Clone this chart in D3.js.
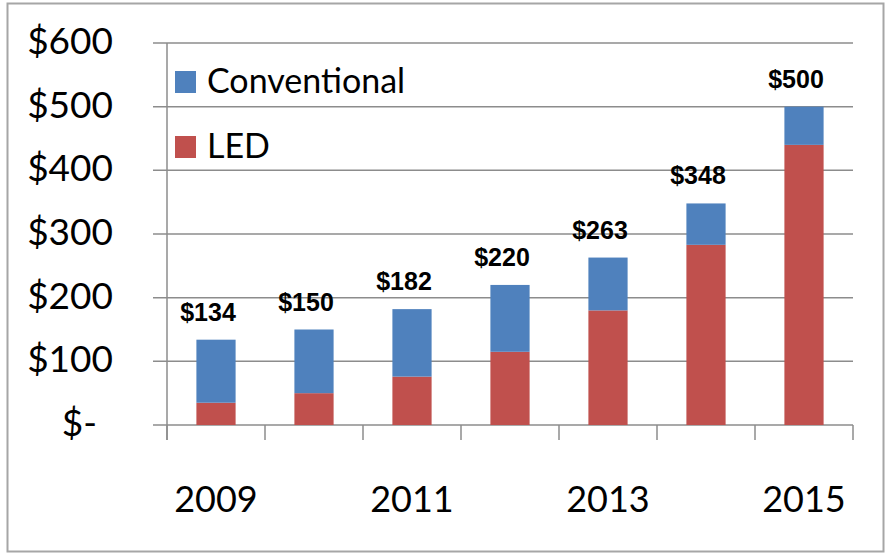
<!DOCTYPE html>
<html lang="en">
<head>
    <meta charset="UTF-8">
    <title>Conventional vs LED</title>
    <script src="https://cdn.jsdelivr.net/npm/d3@7"></script>
    <style>
        body, html {
            margin: 0;
            padding: 0;
            background: #fff;
            overflow: hidden;
        }
        svg {
            display: block;
        }
    </style>
</head>
<body>
    <svg id="mainsvg"></svg>
    <script>
        // data
        const years = ["2009", "2010", "2011", "2012", "2013", "2014", "2015"];
        const led = [35, 50, 76, 115, 180, 283, 440];
        const totals = [134, 150, 182, 220, 263, 348, 500];
        const conventional = totals.map((t, i) => t - led[i]);
        const yTicks = [0, 100, 200, 300, 400, 500, 600];
        const xLabels = ["2009", "2011", "2013", "2015"];
        const seriesNames = ["Conventional", "LED"];

        const width = 885, height = 556;
        const colors = { Conventional: "#4F81BD", LED: "#C0504D" };
        const gridColor = "#8c8c8c";
        const labelFont = "Lato, 'Open Sans', sans-serif";

        const svg = d3.select("#mainsvg")
            .attr("width", width)
            .attr("height", height);

        // outer border
        svg.append("rect")
            .attr("x", 7.5).attr("y", 3.5)
            .attr("width", 876).attr("height", 548)
            .attr("fill", "#fff")
            .attr("stroke", "#a6a6a6")
            .attr("stroke-width", 2);

        const plot = { left: 167, right: 853, top: 43, bottom: 425 };

        const x = d3.scaleBand()
            .domain(years)
            .range([plot.left, plot.right])
            .paddingInner(0.6)
            .paddingOuter(0.3);

        const y = d3.scaleLinear()
            .domain([0, 600])
            .range([plot.bottom, plot.top]);

        // gridlines + left tick marks
        svg.append("g")
            .selectAll("line")
            .data(yTicks)
            .join("line")
            .attr("x1", plot.left - 14)
            .attr("x2", plot.right)
            .attr("y1", d => y(d))
            .attr("y2", d => y(d))
            .attr("stroke", gridColor)
            .attr("stroke-width", 1.5);

        // y axis line
        svg.append("line")
            .attr("x1", plot.left).attr("x2", plot.left)
            .attr("y1", plot.top).attr("y2", plot.bottom + 15)
            .attr("stroke", gridColor)
            .attr("stroke-width", 1.5);

        // x tick marks at category boundaries
        const step = x.step();
        const boundaries = d3.range(years.length + 1).map(i => plot.left + i * step);
        svg.append("g")
            .selectAll("line")
            .data(boundaries)
            .join("line")
            .attr("x1", d => d).attr("x2", d => d)
            .attr("y1", plot.bottom)
            .attr("y2", plot.bottom + 15)
            .attr("stroke", gridColor)
            .attr("stroke-width", 1.5);

        // y labels
        svg.append("g")
            .selectAll("text")
            .data(yTicks)
            .join("text")
            .attr("x", d => d === 0 ? 97 : 113)
            .attr("y", d => y(d) + 11)
            .attr("text-anchor", "end")
            .attr("font-family", labelFont)
            .attr("font-size", 37)
            .attr("fill", "#000")
            .text(d => d === 0 ? "$-" : "$" + d);

        // x labels
        svg.append("g")
            .selectAll("text")
            .data(xLabels)
            .join("text")
            .attr("x", d => x(d) + x.bandwidth() / 2)
            .attr("y", 512)
            .attr("text-anchor", "middle")
            .attr("font-family", labelFont)
            .attr("font-size", 36)
            .attr("fill", "#000")
            .text(d => d);

        // stacked bars
        const table = years.map((yr, i) => ({ year: yr, LED: led[i], Conventional: conventional[i] }));
        const stacked = d3.stack().keys(["LED", "Conventional"])(table);

        svg.append("g")
            .selectAll("g")
            .data(stacked)
            .join("g")
            .attr("fill", d => colors[d.key])
            .selectAll("rect")
            .data(d => d)
            .join("rect")
            .attr("x", d => x(d.data.year))
            .attr("y", d => y(d[1]))
            .attr("width", x.bandwidth())
            .attr("height", d => y(d[0]) - y(d[1]));

        // total labels
        svg.append("g")
            .selectAll("text")
            .data(years)
            .join("text")
            .attr("x", d => x(d) + x.bandwidth() / 2 - 8)
            .attr("y", (d, i) => y(totals[i]) - 19)
            .attr("text-anchor", "middle")
            .attr("font-family", "'Liberation Sans', Arial, sans-serif")
            .attr("font-weight", "bold")
            .attr("font-size", 25)
            .attr("fill", "#000")
            .text((d, i) => "$" + totals[i]);

        // legend
        const legend = svg.append("g")
            .selectAll("g")
            .data(seriesNames)
            .join("g")
            .attr("transform", (d, i) => `translate(175, ${71 + i * 65})`);

        legend.append("rect")
            .attr("width", 21)
            .attr("height", 22)
            .attr("fill", d => colors[d]);

        legend.append("text")
            .attr("x", 32)
            .attr("y", 22)
            .attr("font-family", labelFont)
            .attr("font-size", 34)
            .attr("fill", "#000")
            .text(d => d);
    </script>
</body>
</html>
